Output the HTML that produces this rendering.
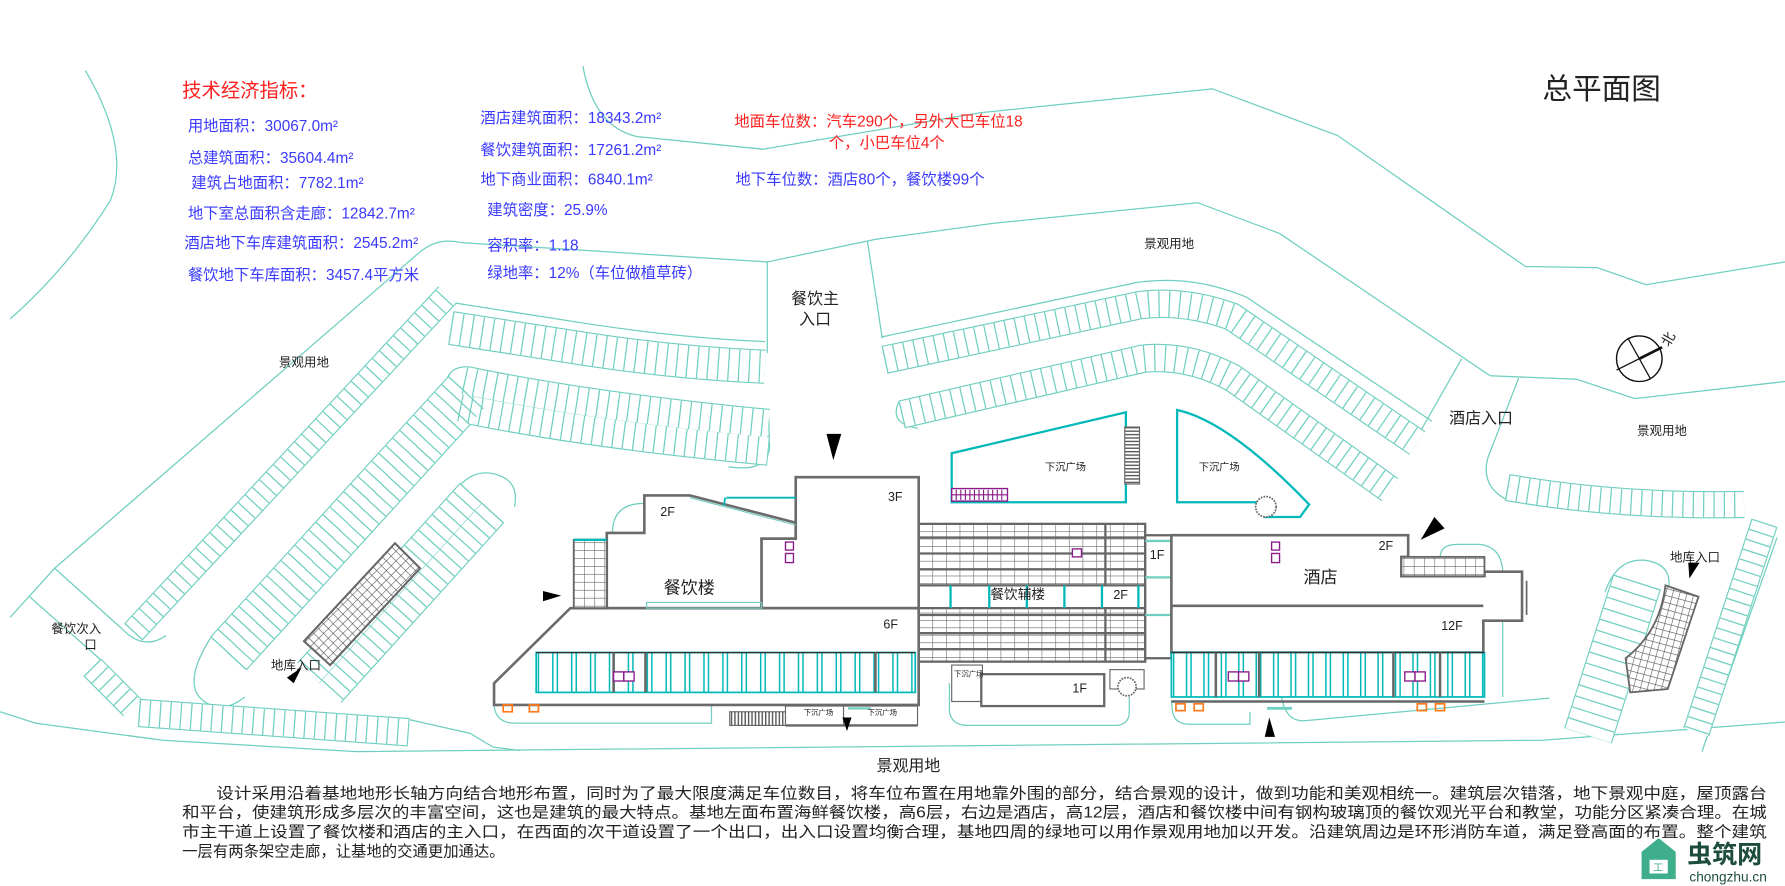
<!DOCTYPE html>
<html><head><meta charset="utf-8">
<style>
html,body{margin:0;padding:0;background:#fff;}
svg{display:block;}
text{font-family:"Liberation Sans","Noto Sans CJK SC",sans-serif;}
.b{fill:#3a3aff;font-size:13.5px;}
.r{fill:#ff2020;}
.k{fill:#222;}
</style></head>
<body>
<svg xmlns="http://www.w3.org/2000/svg" width="1785" height="886" viewBox="0 0 1568 778" preserveAspectRatio="none">
<defs>
<pattern id="grid" width="12" height="6.5" patternUnits="userSpaceOnUse" x="807" y="460">
<rect width="12" height="6.5" fill="#fff"/><path d="M0,0H12M0,0V6.5" stroke="#6a6a6a" stroke-width="1"/></pattern>
<pattern id="grid2" width="9" height="7" patternUnits="userSpaceOnUse">
<rect width="9" height="7" fill="#fff"/><path d="M0,0H9M0,0V7" stroke="#6a6a6a" stroke-width="1"/></pattern>
<pattern id="hatch" width="6" height="6" patternUnits="userSpaceOnUse" patternTransform="rotate(45)">
<rect width="6" height="6" fill="#fff"/><path d="M0,0H6M0,0V6" stroke="#555" stroke-width="1"/></pattern>
<pattern id="hatch2" width="6" height="6" patternUnits="userSpaceOnUse" patternTransform="rotate(15)">
<rect width="6" height="6" fill="#fff"/><path d="M0,0H6M0,0V6" stroke="#555" stroke-width="1"/></pattern>
<pattern id="stairs" width="3" height="10" patternUnits="userSpaceOnUse"><rect width="3" height="10" fill="#fff"/><path d="M0.5,0V10" stroke="#555" stroke-width="1.4"/></pattern>
<pattern id="stairsH" width="10" height="3" patternUnits="userSpaceOnUse"><rect width="10" height="3" fill="#fff"/><path d="M0,0.5H10" stroke="#555" stroke-width="1.4"/></pattern>
<pattern id="mull1" width="16.6" height="40" patternUnits="userSpaceOnUse" x="471" y="573"><rect width="16.6" height="40" fill="#fff"/><path d="M2,0V40M14.6,0V40" stroke="#00b8b8" stroke-width="1.3"/></pattern>
<pattern id="mull2" width="15.3" height="40" patternUnits="userSpaceOnUse" x="1029" y="573"><rect width="15.3" height="40" fill="#fff"/><path d="M2,0V40M13.3,0V40" stroke="#00b8b8" stroke-width="1.3"/></pattern>
</defs>

<g fill="none" stroke="#70cfc0" stroke-width="1.1">
<path d="M75,62 Q115,130 97,176 Q60,235 9,280"/>
<path d="M512,58 Q522,112 560,120 L670,131 L861,99 L1065,78 L1175,119 L1340,234 L1403,235 L1446,250 L1568,230"/>
<path d="M48,499 L368,222 Q384,208 405,213 L674,230 L770,210 L873,196 L1052,178 L1124,205 L1309,330 L1385,333 L1436,350 L1568,335"/>
<path d="M9,542 L48,499 L107,552"/>
<path d="M26,524 L88,579 L123,614"/>
<path d="M107,552 Q126,572 146,558"/>
<path d="M674,230 L674,310"/>
<path d="M762,212 L775,297"/>
<path d="M1284,315 L1247,380"/>
<path d="M1334,332 L1307,402 Q1300,428 1326,440"/>
<path d="M0,625 L31,635 L143,650 L313,660 L1355,650 L1568,634"/>
<path d="M360,632 L413,644 L433,656 L457,659"/>
<path d="M185,560 Q160,600 178,615 Q195,628 215,612"/>
<path d="M410,322 Q395,322 392,335"/>
<path d="M640,410 Q675,415 676,392 L675,360"/>
<path d="M790,352 Q780,372 806,376"/>
<path d="M405,425 Q420,410 440,418 Q456,425 452,445"/>
<path d="M1410,520 Q1420,490 1445,492 Q1468,495 1466,515"/>
<path d="M1561,472 L1520,589 L1495,660"/>
<path d="M1265,490 Q1265,478 1280,478 L1300,478 Q1318,480 1320,500 L1320,612"/>
<path d="M1125,600 Q1125,633 1145,633 L1361,613"/>
<path d="M434,620 Q436,635 452,635 L625,635 L625,620"/>
<path d="M834,600 L834,625 Q836,637 850,637 L979,637 Q992,637 992,625 L992,612"/>
<path d="M1029,615 L1030,625 Q1032,636 1045,636 L1098,636 L1098,625"/>
<path d="M538,468 Q538,442 566,442"/>
<path d="M498,540 L434,600"/>
<!-- curbs -->
<path d="M774,296 L999,248 Q1048,241 1095,261 L1258,370"/>
<path d="M399,266 L521,285 Q601,297 672,300"/>
</g>

<!-- parking rows: edges (wide teal), white fill, ticks (dash) -->
<g fill="none" stroke-linecap="butt">
<g stroke="#70cfc0">
<path stroke-width="25" d="M777,316 L1001,268 Q1040,263 1082,278 L1245,389"/>
<path stroke-width="25" d="M792,364 L1004,315 Q1044,311 1083,332 L1221,430"/>
<path stroke-width="30" d="M396,288 L518,307 Q598,319 672,322"/>
<path stroke-width="26" d="M408,334 Q518,357 675,372"/>
<path stroke-width="26" d="M404,358 Q514,381 675,396"/>
<path stroke-width="22" d="M117,555 L393,259"/>
<path stroke-width="23" d="M193,567 L403,337"/>
<path stroke-width="23" d="M208,581 L418,351"/>
<path stroke-width="27" d="M414,433 L271,591"/>
<path stroke-width="27" d="M433,450 L290,608"/>
<path stroke-width="25" d="M122,626 L359,643"/>
<path stroke-width="22" d="M81,586 L116,621"/>
<path stroke-width="24" d="M1324,428 Q1420,445 1532,443"/>
<path stroke-width="24" d="M1550,459 L1490,643"/>
<path stroke-width="44" d="M1438,511 L1395,646"/>
</g>
<g stroke="#fff">
<path stroke-width="23" d="M777,316 L1001,268 Q1040,263 1082,278 L1245,389"/>
<path stroke-width="23" d="M792,364 L1004,315 Q1044,311 1083,332 L1221,430"/>
<path stroke-width="28" d="M396,288 L518,307 Q598,319 672,322"/>
<path stroke-width="24" d="M408,334 Q518,357 675,372"/>
<path stroke-width="24" d="M404,358 Q514,381 675,396"/>
<path stroke-width="20" d="M117,555 L393,259"/>
<path stroke-width="21" d="M193,567 L403,337"/>
<path stroke-width="21" d="M208,581 L418,351"/>
<path stroke-width="25" d="M414,433 L271,591"/>
<path stroke-width="25" d="M433,450 L290,608"/>
<path stroke-width="23" d="M122,626 L359,643"/>
<path stroke-width="20" d="M81,586 L116,621"/>
<path stroke-width="22" d="M1324,428 Q1420,445 1532,443"/>
<path stroke-width="22" d="M1550,459 L1490,643"/>
<path stroke-width="42" d="M1438,511 L1395,646"/>
</g>
<g stroke="#70cfc0" stroke-dasharray="1.1 8">
<path stroke-width="23" d="M777,316 L1001,268 Q1040,263 1082,278 L1245,389"/>
<path stroke-width="23" d="M792,364 L1004,315 Q1044,311 1083,332 L1221,430"/>
<path stroke-width="28" d="M396,288 L518,307 Q598,319 672,322"/>
<path stroke-width="24" d="M408,334 Q518,357 675,372"/>
<path stroke-width="24" d="M404,358 Q514,381 675,396"/>
<path stroke-width="20" d="M117,555 L393,259"/>
<path stroke-width="21" d="M193,567 L403,337"/>
<path stroke-width="21" d="M208,581 L418,351"/>
<path stroke-width="25" d="M414,433 L271,591"/>
<path stroke-width="25" d="M433,450 L290,608"/>
<path stroke-width="23" d="M122,626 L359,643"/>
<path stroke-width="20" d="M81,586 L116,621"/>
<path stroke-width="22" d="M1324,428 Q1420,445 1532,443"/>
<path stroke-width="22" d="M1550,459 L1490,643"/>
<path stroke-width="42" d="M1438,511 L1395,646" stroke-dasharray="1.1 9"/>
</g>
</g>

<polygon points="347,477 369,499 290,584 267,563" fill="url(#hatch)" stroke="#666" stroke-width="1.8"/>
<path d="M1463,514 L1492,524 L1465,605 L1432,608 L1428,578 Q1458,555 1463,514 Z" fill="url(#hatch2)" stroke="#666" stroke-width="1.6"/>

<polygon points="836,398 989,362 989,441 836,441" fill="#fff" stroke="#00b8b8" stroke-width="2"/>
<rect x="988" y="375" width="13" height="50" fill="url(#stairsH)" stroke="#666" stroke-width="1"/>
<rect x="836" y="429" width="49" height="11" fill="#fff" stroke="#8a1a8a" stroke-width="1.2"/>
<path d="M840,430V439M844,430V439M848,430V439M852,430V439M856,430V439M860,430V439M864,430V439M868,430V439M872,430V439M876,430V439M880,430V439M836,434.5H885" stroke="#8a1a8a" stroke-width="1"/>
<path d="M1034,360 Q1080,370 1150,443 L1142,454 L1111,454 L1111,441 L1034,441 Z" fill="#fff" stroke="#00b8b8" stroke-width="2"/>
<circle cx="1112" cy="445" r="9" fill="#fff" stroke="#666" stroke-width="1.5" stroke-dasharray="1.5 1"/>

<rect x="807" y="460" width="199" height="121" fill="url(#grid)" stroke="#666" stroke-width="2"/>
<path d="M807,472H1006M807,486H1006M807,500H1006M807,540H1006M807,556H1006M807,570H1006M971,460V514M971,534V581" stroke="#666" stroke-width="2"/>
<rect x="807" y="514" width="199" height="20" fill="#fff" stroke="#666" stroke-width="2"/>
<path d="M835,514V534M869,514V534M902,514V534M935,514V534M968,514V534M1000,514V534" stroke="#00b8b8" stroke-width="2"/>
<rect x="942" y="482" width="8" height="7" fill="#fff" stroke="#8a1a8a" stroke-width="1.2"/>
<rect x="836" y="584" width="27" height="32" fill="#fff" stroke="#666" stroke-width="1"/>
<rect x="862" y="592" width="108" height="28" fill="#fff" stroke="#666" stroke-width="2"/>
<rect x="975" y="588" width="30" height="17" fill="#fff" stroke="#666" stroke-width="1"/>
<circle cx="990" cy="603" r="8" fill="#fff" stroke="#666" stroke-width="1.5" stroke-dasharray="1.5 1"/>
<path d="M807,581 L807,620" stroke="#666" stroke-width="2"/>
<rect x="1006" y="470" width="23" height="108" fill="#fff" stroke="#666" stroke-width="2"/>
<path d="M1006,475H1029M1006,507H1029M1006,540H1029" stroke="#70cfc0" stroke-width="2"/>

<g stroke="#6b6b6b" stroke-width="2.3" fill="#fff">
<path d="M566,468 L566,435 L606,435 L699,459 L699,473 L669,473 L669,534 L533,534 L533,468 Z"/>
<path d="M699,419 L807,419 L807,534 L669,534 L669,473 L699,473 Z"/>
<path d="M501,534 L807,534 L807,619 L434,619 L434,600 Z"/>
</g>
<path d="M568,529 L669,529 L669,534 L568,534Z" stroke="#70cfc0" fill="none"/>
<path d="M638,437 L699,437 M637,437 L636,444" stroke="#00b8b8" stroke-width="1.6" fill="none"/>
<path d="M606,437 L699,461" stroke="#70cfc0" stroke-width="1" fill="none"/>
<rect x="504" y="474" width="29" height="60" fill="url(#grid2)" stroke="#666" stroke-width="1.6"/>
<path d="M504,474H533" stroke="#00b8b8" stroke-width="2"/>
<rect x="690" y="476" width="7" height="7" fill="#fff" stroke="#8a1a8a" stroke-width="1.2"/>
<rect x="690" y="486" width="7" height="8" fill="#fff" stroke="#8a1a8a" stroke-width="1.2"/>
<rect x="471" y="573" width="333" height="35" fill="url(#mull1)" stroke="#00b8b8" stroke-width="1.5"/>
<path d="M471,573H804" stroke="#333" stroke-width="1.2"/>
<path d="M539,573V608M567,573V608M769,573V608" stroke="#666" stroke-width="2.2"/>
<rect x="539" y="590" width="9" height="8" fill="#fff" stroke="#8a1a8a" stroke-width="1.2"/>
<rect x="548" y="590" width="9" height="8" fill="#fff" stroke="#8a1a8a" stroke-width="1.2"/>
<rect x="442" y="619" width="8" height="6" fill="none" stroke="#ff7a1a" stroke-width="1.5"/>
<rect x="465" y="619" width="8" height="6" fill="none" stroke="#ff7a1a" stroke-width="1.5"/>
<rect x="641" y="625" width="49" height="12" fill="url(#stairs)" stroke="#666" stroke-width="1"/>
<rect x="690" y="620" width="51" height="17" fill="#fff" stroke="#666" stroke-width="1"/>
<rect x="741" y="620" width="65" height="17" fill="#fff" stroke="#666" stroke-width="1"/>
<path d="M690,637H806" stroke="#666" stroke-width="2"/>
<path d="M745,622H765" stroke="#70cfc0" stroke-width="2"/>

<g stroke="#6b6b6b" stroke-width="2.3" fill="#fff">
<path d="M1029,470 L1237,470 L1237,489 L1231,489 L1231,506 L1304,506 L1304,502 L1337,502 L1337,545 L1303,545 L1303,573 L1029,573 Z"/>
<path d="M1029,532 L1303,532"/>
</g>
<path d="M1341,510 V540" stroke="#666" stroke-width="1.5"/>
<rect x="1231" y="489" width="73" height="17" fill="url(#grid2)" stroke="#666" stroke-width="1.6"/>
<rect x="1117" y="476" width="7" height="7" fill="#fff" stroke="#8a1a8a" stroke-width="1.2"/>
<rect x="1117" y="486" width="7" height="8" fill="#fff" stroke="#8a1a8a" stroke-width="1.2"/>
<rect x="1029" y="573" width="275" height="39" fill="url(#mull2)" stroke="#00b8b8" stroke-width="1.5"/>
<path d="M1029,573H1304" stroke="#333" stroke-width="1.2"/>
<path d="M1068,573V612M1106,573V612M1224,573V612M1265,573V612M1029,616H1304" stroke="#666" stroke-width="2.2"/>
<rect x="1079" y="590" width="9" height="8" fill="#fff" stroke="#8a1a8a" stroke-width="1.2"/>
<rect x="1088" y="590" width="9" height="8" fill="#fff" stroke="#8a1a8a" stroke-width="1.2"/>
<rect x="1234" y="590" width="9" height="8" fill="#fff" stroke="#8a1a8a" stroke-width="1.2"/>
<rect x="1243" y="590" width="9" height="8" fill="#fff" stroke="#8a1a8a" stroke-width="1.2"/>
<rect x="1033" y="618" width="8" height="6" fill="none" stroke="#ff7a1a" stroke-width="1.5"/>
<rect x="1049" y="618" width="8" height="6" fill="none" stroke="#ff7a1a" stroke-width="1.5"/>
<rect x="1245" y="618" width="8" height="6" fill="none" stroke="#ff7a1a" stroke-width="1.5"/>
<rect x="1261" y="618" width="8" height="6" fill="none" stroke="#ff7a1a" stroke-width="1.5"/>
<path d="M1113,622H1135" stroke="#70cfc0" stroke-width="2.5"/>

<g fill="#000">
<polygon points="726,381 739,381 732,404"/>
<polygon points="477,519 477,528 493,523"/>
<polygon points="1248,474 1260,454 1269,464"/>
<polygon points="252,595 258,600 265,586"/>
<polygon points="1483,494 1493,494 1484,508"/>
<polygon points="740,630 748,630 744,642"/>
<polygon points="1111,647 1120,647 1115,630"/>
</g>

<circle cx="1440" cy="315" r="20" fill="none" stroke="#111" stroke-width="1.2"/>
<path d="M1430,297 L1450,333 M1420,325 L1460,305" stroke="#111" stroke-width="1.1"/>
<path d="M1440,315 L1460,305" stroke="#111" stroke-width="2.4"/>
<text x="1466" y="305" font-size="12" class="k" transform="rotate(-60 1466 305)">北</text>

<g class="k">
<text x="1355" y="87" font-size="26">总平面图</text>
<text x="1005" y="218" font-size="11">景观用地</text>
<text x="245" y="322" font-size="11">景观用地</text>
<text x="1438" y="382" font-size="11">景观用地</text>
<text x="770" y="677" font-size="14">景观用地</text>
<text x="695" y="267" font-size="14">餐饮主</text>
<text x="702" y="285" font-size="14">入口</text>
<text x="1273" y="372" font-size="14">酒店入口</text>
<text x="45" y="556" font-size="11">餐饮次入</text>
<text x="74" y="570" font-size="11">口</text>
<text x="238" y="588" font-size="11">地库入口</text>
<text x="1467" y="493" font-size="11">地库入口</text>
<text x="580" y="453" font-size="11">2F</text>
<text x="780" y="440" font-size="11">3F</text>
<text x="583" y="521" font-size="15">餐饮楼</text>
<text x="776" y="552" font-size="11">6F</text>
<text x="870" y="526" font-size="12">餐饮辅楼</text>
<text x="978" y="526" font-size="11">2F</text>
<text x="1010" y="491" font-size="11">1F</text>
<text x="1145" y="512" font-size="15">酒店</text>
<text x="1211" y="483" font-size="11">2F</text>
<text x="1266" y="553" font-size="11">12F</text>
<text x="942" y="608" font-size="11">1F</text>
<text x="918" y="413" font-size="9">下沉广场</text>
<text x="1053" y="413" font-size="9">下沉广场</text>
<text x="838" y="594" font-size="6.5">下沉广场</text>
<text x="706" y="628" font-size="6.5">下沉广场</text>
<text x="762" y="628" font-size="6.5">下沉广场</text>
</g>

<text x="160" y="85" font-size="17" class="r">技术经济指标：</text>
<g class="b">
<text x="165" y="115">用地面积：30067.0m²</text>
<text x="165" y="143">总建筑面积：35604.4m²</text>
<text x="168" y="165">建筑占地面积：7782.1m²</text>
<text x="165" y="192">地下室总面积含走廊：12842.7m²</text>
<text x="162" y="218">酒店地下车库建筑面积：2545.2m²</text>
<text x="165" y="246">餐饮地下车库面积：3457.4平方米</text>
<text x="422" y="108">酒店建筑面积：18343.2m²</text>
<text x="422" y="136">餐饮建筑面积：17261.2m²</text>
<text x="422" y="162">地下商业面积：6840.1m²</text>
<text x="428" y="189">建筑密度：25.9%</text>
<text x="428" y="220">容积率：1.18</text>
<text x="428" y="244">绿地率：12%（车位做植草砖）</text>
<text x="646" y="162">地下车位数：酒店80个，餐饮楼99个</text>
<text x="645" y="111" class="r">地面车位数：汽车290个，另外大巴车位18</text>
<text x="728" y="130" class="r">个，小巴车位4个</text>
</g>

<g class="k" font-size="13.5">
<text x="190" y="701" textLength="1362" lengthAdjust="spacingAndGlyphs">设计采用沿着基地地形长轴方向结合地形布置，同时为了最大限度满足车位数目，将车位布置在用地靠外围的部分，结合景观的设计，做到功能和美观相统一。建筑层次错落，地下景观中庭，屋顶露台</text>
<text x="160" y="718" textLength="1392" lengthAdjust="spacingAndGlyphs">和平台，使建筑形成多层次的丰富空间，这也是建筑的最大特点。基地左面布置海鲜餐饮楼，高6层，右边是酒店，高12层，酒店和餐饮楼中间有钢构玻璃顶的餐饮观光平台和教堂，功能分区紧凑合理。在城</text>
<text x="160" y="735" textLength="1392" lengthAdjust="spacingAndGlyphs">市主干道上设置了餐饮楼和酒店的主入口，在西面的次干道设置了一个出口，出入口设置均衡合理，基地四周的绿地可以用作景观用地加以开发。沿建筑周边是环形消防车道，满足登高面的布置。整个建筑</text>
<text x="160" y="752">一层有两条架空走廊，让基地的交通更加通达。</text>
</g>

<g>
<path d="M1442,748 L1457,736 L1472,748 L1472,772 L1442,772 Z" fill="#3fae8c"/>
<rect x="1449" y="755" width="16" height="12" fill="#fff"/>
<text x="1452" y="765" font-size="9" fill="#3fae8c">工</text>
<text x="1482" y="758" font-size="22" fill="#1d4d3a" font-weight="bold">虫筑网</text>
<text x="1484" y="774" font-size="12" fill="#1d4d3a">chongzhu.cn</text>
</g>
</svg>
</body></html>
